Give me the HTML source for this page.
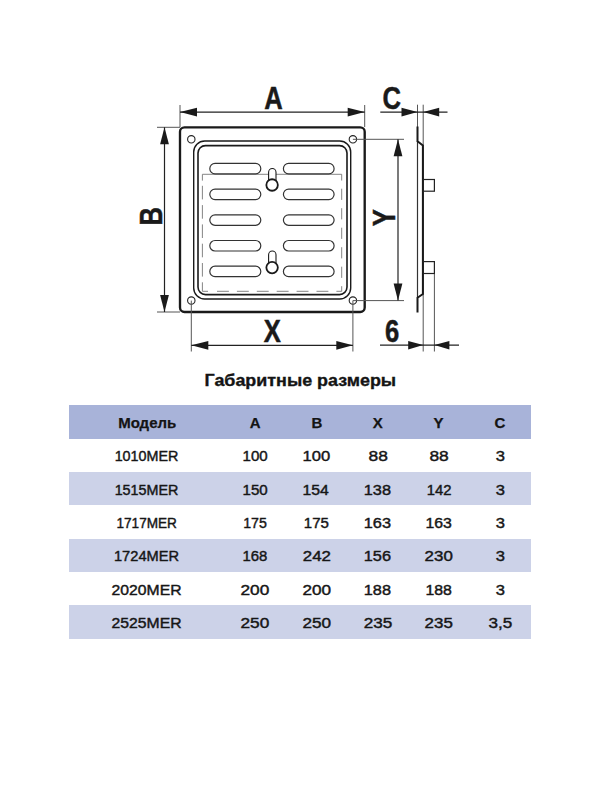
<!DOCTYPE html>
<html><head><meta charset="utf-8">
<style>
html,body{margin:0;padding:0;background:#fff;}
body{width:600px;height:800px;position:relative;overflow:hidden;font-family:"Liberation Sans",sans-serif;color:#1e1e1e;}
svg{position:absolute;left:0;top:0;}
.title{position:absolute;left:0;width:600px;top:372px;text-align:center;font-weight:bold;font-size:17.5px;}
.band{position:absolute;left:69px;width:462px;height:33.3px;}
.hdr{background:#a8b3d9;}
.alt{background:#ccd2e8;}
.t{position:absolute;width:100px;margin-left:-50px;text-align:center;font-size:14.5px;}
.b{font-weight:bold;}
</style></head><body>
<svg width="600" height="800" viewBox="0 0 600 800">
  <g fill="none" stroke="#1a1a1a">
    <!-- outer plate -->
    <rect x="180" y="127.3" width="184.7" height="184.7" rx="4.5" stroke-width="2.35"/>
    <!-- holes -->
    <g stroke-width="1.1" stroke="#222">
      <circle cx="191.3" cy="139.3" r="3.7"/>
      <circle cx="352.9" cy="139.3" r="3.7"/>
      <circle cx="191.3" cy="300.6" r="3.7"/>
      <circle cx="352.9" cy="300.6" r="3.7"/>
    </g>
    <!-- inner frame -->
    <rect x="193.7" y="141" width="157" height="158" rx="11" stroke-width="1.4"/>
    <rect x="198" y="145.6" width="149" height="149" rx="7.5" stroke-width="1.6"/>
    <!-- dashed -->
    <path d="M202.4 174.3 V291.3" stroke="#777" stroke-width="0.9" stroke-dasharray="6.3 5.2 13.6 5.7 13.6 5.7 13.6 5.7 13.6 5.7 13.6 5.7 13.6 5.7"/>
    <path d="M202.4 291.3 H341.7" stroke="#777" stroke-width="0.9" stroke-dasharray="5.6 9 11.9 8 11.9 8 11.9 8 11.9 8 11.9 8 11.9 8 11.9 8 11.9 8"/>
    <path d="M341.7 174.3 V291.3" stroke="#777" stroke-width="0.9" stroke-dasharray="6.2 8.2 11.2 8.3 11.2 8.3 11.2 8.3 11.2 8.3 11.2 8.3 11.2 8.3"/>
  </g>
  <!-- slots -->
  <path d="M202.4 174.3 H341.7" stroke="#777" stroke-width="0.9"/>
  <g fill="#fff" stroke="#333" stroke-width="1.2">
    <rect x="209.8" y="163.4" width="51" height="10.5" rx="5.25"/>
    <rect x="283.4" y="163.4" width="50.7" height="10.5" rx="5.25"/>
    <rect x="209.8" y="189.1" width="51" height="10.5" rx="5.25"/>
    <rect x="283.4" y="189.1" width="50.7" height="10.5" rx="5.25"/>
    <rect x="209.8" y="214.8" width="51" height="10.5" rx="5.25"/>
    <rect x="283.4" y="214.8" width="50.7" height="10.5" rx="5.25"/>
    <rect x="209.8" y="240.5" width="51" height="10.5" rx="5.25"/>
    <rect x="283.4" y="240.5" width="50.7" height="10.5" rx="5.25"/>
    <rect x="209.8" y="266.2" width="51" height="10.5" rx="5.25"/>
    <rect x="283.4" y="266.2" width="50.7" height="10.5" rx="5.25"/>
  </g>
  <!-- keyholes -->
  <g fill="#fff" stroke="#1a1a1a">
    <rect x="268.6" y="168.5" width="7.4" height="17" rx="3.7" stroke-width="1.1"/>
    <circle cx="272.1" cy="185" r="5.75" stroke-width="1.8"/>
    <rect x="268.6" y="251" width="7.4" height="17" rx="3.7" stroke-width="1.1"/>
    <circle cx="272.1" cy="267.6" r="5.75" stroke-width="1.8"/>
  </g>
  <!-- extension lines -->
  <g stroke="#555" stroke-width="1" fill="none">
    <path d="M180 105 V127"/>
    <path d="M364.7 105 V127"/>
    <path d="M157 127.3 H180"/>
    <path d="M157 312 H180"/>
    <path d="M191.3 300.6 V351.5"/>
    <path d="M352.9 300.6 V351.5"/>
    <path d="M352.9 139.3 H404"/>
    <path d="M352.9 300.6 H404"/>
    <path d="M417.5 104.7 V127"/>
    <path d="M423.2 104.7 V351.5"/>
    <path d="M434.4 273.5 V351.5"/>
  </g>
  <!-- dimension lines -->
  <g stroke="#222" stroke-width="1.2" fill="none">
    <path d="M180 112.1 H364.7"/>
    <path d="M164.5 127.3 V312"/>
    <path d="M191.3 345.3 H352.9"/>
    <path d="M398 139.3 V300.6"/>
    <path d="M380.3 112.1 H447.5"/>
    <path d="M380 345.1 H459"/>
  </g>
  <!-- arrows -->
  <g fill="#1a1a1a">
    <path d="M180 112.1 L197 107.7 L197 116.5 Z"/>
    <path d="M364.7 112.1 L347.7 107.7 L347.7 116.5 Z"/>
    <path d="M164.5 127.3 L160.1 144.3 L168.9 144.3 Z"/>
    <path d="M164.5 312 L160.1 295 L168.9 295 Z"/>
    <path d="M191.3 345.3 L208.3 340.9 L208.3 349.7 Z"/>
    <path d="M352.9 345.3 L336.3 340.9 L336.3 349.7 Z"/>
    <path d="M398 139.3 L393.6 156.3 L402.4 156.3 Z"/>
    <path d="M398 300.6 L393.6 283.6 L402.4 283.6 Z"/>
    <path d="M417.5 112.1 L401.5 107.7 L401.5 116.5 Z"/>
    <path d="M423.2 112.1 L439.2 107.7 L439.2 116.5 Z"/>
    <path d="M423.2 345.1 L408.2 340.9 L408.2 349.5 Z"/>
    <path d="M434.4 345.1 L449.4 340.9 L449.4 349.5 Z"/>
  </g>
  <!-- side profile -->
  <path d="M417.5 141 V297.5" fill="none" stroke="#333" stroke-width="1.2"/>
  <path d="M417.5 126.5 V141.3 L422.9 145.5 V294 L417.5 297.7 V312.6" fill="none" stroke="#1a1a1a" stroke-width="2"/>
  <g fill="none" stroke="#222" stroke-width="1.2">
    <rect x="423.2" y="179.5" width="11.2" height="11.7"/>
    <rect x="423.2" y="261.6" width="11.2" height="11.9"/>
  </g>
  <!-- letters -->
  <g font-family="Liberation Sans" font-weight="bold" fill="#1a1a1a" stroke="#1a1a1a" stroke-width="0.5" font-size="32">
    <text transform="translate(273.4 109) scale(0.8 1)" text-anchor="middle">A</text>
    <text transform="translate(272.4 342.1) scale(0.8 1)" text-anchor="middle">X</text>
    <text transform="translate(391.8 109.2) scale(0.8 1)" text-anchor="middle">C</text>
    <text transform="translate(392.1 342.3) scale(0.8 1)" text-anchor="middle">6</text>
    <text transform="translate(162 216.3) rotate(-90) scale(0.8 1)" text-anchor="middle">B</text>
    <text transform="translate(394.8 217.8) rotate(-90) scale(0.8 1)" text-anchor="middle">Y</text>
  </g>
</svg>
<div class="band hdr" style="top:405.3px;height:33.5px"></div>
<div class="band alt" style="top:472.1px"></div>
<div class="band alt" style="top:538.7px"></div>
<div class="band alt" style="top:605.3px"></div>
<svg class="tbl" width="600" height="800" viewBox="0 0 600 800">
  <text transform="translate(300.3 386.4) scale(1.054 1)" font-family="Liberation Sans" font-weight="bold" font-size="17" fill="#141414" stroke="#141414" stroke-width="0.35" text-anchor="middle">Габаритные размеры</text>
  <g font-family="Liberation Sans" font-weight="bold" font-size="15" fill="#141414" stroke="#141414" stroke-width="0.25" text-anchor="middle">
    <text x="147.2" y="428">Модель</text>
    <text x="255.2" y="428">A</text>
    <text x="316.8" y="428">B</text>
    <text x="377.8" y="428">X</text>
    <text x="438.6" y="428">Y</text>
    <text x="499.8" y="428">C</text>
  </g>
  <g font-family="Liberation Sans" font-size="14.5" fill="#161616" stroke="#161616" stroke-width="0.42" text-anchor="middle">
    <text transform="translate(146.5 461.3) scale(0.990 1)">1010MER</text>
    <text transform="translate(255.1 461.3) scale(1.043 1)">100</text>
    <text transform="translate(316.4 461.3) scale(1.145 1)">100</text>
    <text transform="translate(378.2 461.3) scale(1.200 1)">88</text>
    <text transform="translate(439.1 461.3) scale(1.200 1)">88</text>
    <text transform="translate(500.3 461.3) scale(1.143 1)">3</text>
    <text transform="translate(146.5 494.6) scale(0.990 1)">1515MER</text>
    <text transform="translate(255.1 494.6) scale(1.043 1)">150</text>
    <text transform="translate(315.7 494.6) scale(1.087 1)">154</text>
    <text transform="translate(377.4 494.6) scale(1.127 1)">138</text>
    <text transform="translate(439.1 494.6) scale(1.026 1)">142</text>
    <text transform="translate(500.3 494.6) scale(1.143 1)">3</text>
    <text transform="translate(146.7 527.9) scale(0.938 1)">1717MER</text>
    <text transform="translate(255.0 527.9) scale(0.978 1)">175</text>
    <text transform="translate(316.4 527.9) scale(1.036 1)">175</text>
    <text transform="translate(377.4 527.9) scale(1.127 1)">163</text>
    <text transform="translate(438.6 527.9) scale(1.091 1)">163</text>
    <text transform="translate(500.3 527.9) scale(1.143 1)">3</text>
    <text transform="translate(146.5 561.2) scale(1.010 1)">1724MER</text>
    <text transform="translate(254.9 561.2) scale(1.030 1)">168</text>
    <text transform="translate(316.9 561.2) scale(1.165 1)">242</text>
    <text transform="translate(377.4 561.2) scale(1.127 1)">156</text>
    <text transform="translate(438.7 561.2) scale(1.165 1)">230</text>
    <text transform="translate(500.3 561.2) scale(1.143 1)">3</text>
    <text transform="translate(146.5 594.5) scale(1.086 1)">2020MER</text>
    <text transform="translate(254.9 594.5) scale(1.191 1)">200</text>
    <text transform="translate(316.8 594.5) scale(1.183 1)">200</text>
    <text transform="translate(377.4 594.5) scale(1.127 1)">188</text>
    <text transform="translate(438.6 594.5) scale(1.091 1)">188</text>
    <text transform="translate(500.3 594.5) scale(1.143 1)">3</text>
    <text transform="translate(146.5 627.8) scale(1.086 1)">2525MER</text>
    <text transform="translate(254.9 627.8) scale(1.191 1)">250</text>
    <text transform="translate(316.8 627.8) scale(1.183 1)">250</text>
    <text transform="translate(378.0 627.8) scale(1.183 1)">235</text>
    <text transform="translate(438.7 627.8) scale(1.165 1)">235</text>
    <text transform="translate(500.4 627.8) scale(1.179 1)">3,5</text>
  </g>
</svg>
</body></html>
